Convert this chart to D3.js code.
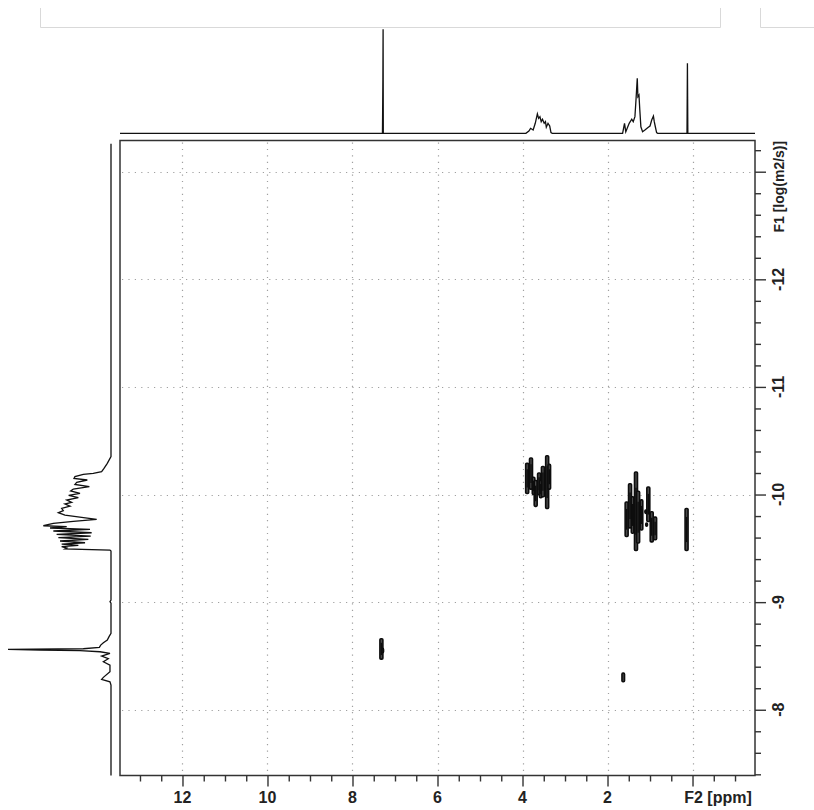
<!DOCTYPE html>
<html><head><meta charset="utf-8">
<script src="https://cdn.jsdelivr.net/npm/d3@7"></script>
<style>
html,body{margin:0;padding:0;background:#fff;}
svg{display:block;font-family:"Liberation Sans",Arial,sans-serif;}
</style></head><body>
<svg id="chart" width="814" height="810"></svg>
<script>
// 1H projection along F2: [chemical shift (ppm), relative intensity]
const f2Projection = [
  [13.47, 0], [7.295, 0], [7.29, 24], [7.285, 52], [7.28, 100], [7.275, 0],
  [3.92, 0], [3.85, 2.2], [3.81, 4.8], [3.75, 3.2], [3.70, 9.6], [3.65, 18.6],
  [3.62, 14.4], [3.59, 16], [3.56, 11.2], [3.53, 13.5], [3.49, 9.6], [3.46, 11.2],
  [3.44, 5.8], [3.40, 9.6], [3.36, 7.0], [3.33, 0.6], [3.30, 0],
  [1.645, 0], [1.60, 9.6], [1.57, 1.5], [1.49, 9.6], [1.43, 13.5], [1.395, 11.2],
  [1.355, 16], [1.33, 32], [1.30, 52.9], [1.285, 35.2], [1.26, 36.8], [1.24, 22.4],
  [1.215, 6.3], [1.175, 1.5], [1.12, 3.2], [1.04, 5.8], [1.00, 7], [0.96, 12.8],
  [0.92, 16.6], [0.90, 11.2], [0.875, 6.3], [0.845, 0.6], [0.82, 0],
  [0.13, 0], [0.12, 67.3], [0.11, 0], [-1.47, 0]
];

// Diffusion projection along F1: [log D (m2/s), relative intensity]
const f1Projection = [
  [-13.26, 0], [-10.352, 0], [-10.290, 3.6], [-10.243, 6.8], [-10.212, 9.1],
  [-10.197, 17.2], [-10.187, 26.9], [-10.166, 35.0], [-10.150, 35.9], [-10.135, 23.0],
  [-10.113, 33.3], [-10.094, 35.0], [-10.073, 21.0], [-10.051, 36.6], [-10.033, 39.2],
  [-10.011, 30.1], [-9.992, 41.1], [-9.971, 31.7], [-9.949, 43.0], [-9.927, 38.2],
  [-9.912, 44.7], [-9.893, 39.8], [-9.871, 47.9], [-9.850, 46.3], [-9.831, 51.1],
  [-9.809, 44.7], [-9.788, 28.5], [-9.769, 13.9], [-9.751, 36.6], [-9.732, 56.0],
  [-9.710, 65.7], [-9.701, 43.0], [-9.689, 59.2], [-9.676, 20.4], [-9.661, 56.0],
  [-9.645, 18.8], [-9.630, 52.8], [-9.614, 19.7], [-9.599, 51.1], [-9.583, 22.0],
  [-9.568, 49.5], [-9.552, 25.2], [-9.540, 47.9], [-9.528, 31.7], [-9.515, 47.9],
  [-9.503, 43.0], [-9.494, 44.7], [-9.484, 1.0], [-9.475, 0],
  [-9.02, 0], [-9.004, 1.0], [-8.99, 0],
  [-8.710, 0], [-8.679, 1.9], [-8.648, 3.6], [-8.623, 7.4], [-8.601, 10.0],
  [-8.580, 11.3], [-8.567, 26.9], [-8.561, 100], [-8.555, 68.9], [-8.549, 30.1],
  [-8.539, 10.7], [-8.524, 1.0], [-8.499, 9.1], [-8.474, 2.6], [-8.446, 7.4],
  [-8.415, 1.0], [-8.353, 1.0], [-8.301, 7.4], [-8.282, 9.1], [-8.260, 1.0],
  [-8.230, 0], [-7.389, 0]
];

// Cross peaks: [ppm, log D centre, ppm half-width, log D half-height]
const peaks = [
  [3.89, -10.15, 0.035, 0.14],
  [3.80, -10.195, 0.035, 0.145],
  [3.74, -10.08, 0.03, 0.08],
  [3.69, -10.01, 0.035, 0.12],
  [3.61, -10.10, 0.035, 0.10],
  [3.57, -10.05, 0.03, 0.08],
  [3.52, -10.12, 0.035, 0.14],
  [3.42, -10.115, 0.035, 0.245],
  [3.37, -10.165, 0.03, 0.115],
  [1.55, -9.77, 0.035, 0.16],
  [1.47, -9.895, 0.035, 0.205],
  [1.41, -9.81, 0.03, 0.17],
  [1.33, -9.845, 0.035, 0.365],
  [1.28, -9.79, 0.035, 0.24],
  [1.20, -9.81, 0.03, 0.14],
  [1.04, -9.91, 0.035, 0.16],
  [0.96, -9.70, 0.035, 0.14],
  [0.88, -9.685, 0.035, 0.105],
  [1.10, -9.84, 0.02, 0.015],
  [1.08, -9.72, 0.02, 0.015],
  [0.14, -9.675, 0.035, 0.195],
  [7.32, -8.565, 0.035, 0.095],
  [7.29, -8.55, 0.02, 0.02],
  [1.63, -8.30, 0.03, 0.04]
];

const f2Major = [12, 10, 8, 6, 4, 2, 0];
const f2Labels = ["12", "10", "8", "6", "4", "2"];
const f1Major = [-13, -12, -11, -10, -9, -8];
const f1Labels = ["-12", "-11", "-10", "-9", "-8"];
const f2Title = "F2 [ppm]";
const f1Title = "F1 [log(m2/s)]";

const svg = d3.select("#chart");
const box = {left: 120, right: 755, top: 140.5, bottom: 775.5};

const x = d3.scaleLinear().domain([13.47, -1.47]).range([box.left, box.right]);
const y = d3.scaleLinear().domain([-13.29, -7.389]).range([box.top, box.bottom]);
const topI = d3.scaleLinear().domain([0, 100]).range([133.3, 29.3]);
const leftI = d3.scaleLinear().domain([0, 100]).range([111, 8]);

// window frame lines along the top edge
svg.append("path").attr("d", "M40.5,8V27.5H720.5V8").attr("fill", "none").attr("stroke", "#d9d9d9");
svg.append("path").attr("d", "M760.5,8V27.5H814").attr("fill", "none").attr("stroke", "#d9d9d9");

// grid
const grid = svg.append("g").attr("stroke", "#a0a0a0").attr("stroke-width", 1.2)
  .attr("stroke-dasharray", "1.2,5.2");
grid.selectAll("line.v").data(f2Major).join("line").attr("class", "v")
  .attr("x1", d => Math.round(x(d)) + 0.5).attr("x2", d => Math.round(x(d)) + 0.5)
  .attr("y1", box.top + 2).attr("y2", box.bottom - 2);
grid.selectAll("line.h").data(f1Major).join("line").attr("class", "h")
  .attr("y1", d => Math.round(y(d)) + 0.5).attr("y2", d => Math.round(y(d)) + 0.5)
  .attr("x1", box.left + 2).attr("x2", box.right - 2);

// cross peaks: outer contour with a darker inner level
const pk = svg.append("g");
pk.selectAll("rect.o").data(peaks).join("rect").attr("class", "o")
  .attr("x", d => x(d[0] + d[2])).attr("width", d => x(d[0] - d[2]) - x(d[0] + d[2]))
  .attr("y", d => y(d[1] - d[3])).attr("height", d => y(d[1] + d[3]) - y(d[1] - d[3]))
  .attr("rx", 1).attr("fill", "#4a4a4a").attr("stroke", "#0d0d0d").attr("stroke-width", 1.6);
pk.selectAll("line.i").data(peaks.filter(d => d[3] > 0.05)).join("line").attr("class", "i")
  .attr("x1", d => x(d[0])).attr("x2", d => x(d[0]))
  .attr("y1", d => y(d[1] - d[3] * 0.6)).attr("y2", d => y(d[1] + d[3] * 0.6))
  .attr("stroke", "#0d0d0d").attr("stroke-width", 1.4);

// frame
svg.append("rect").attr("x", box.left).attr("y", box.top)
  .attr("width", box.right - box.left).attr("height", box.bottom - box.top)
  .attr("fill", "none").attr("stroke", "#333").attr("stroke-width", 1.5);

// F2 axis (bottom)
const xAxis = d3.axisBottom(x).tickValues(d3.range(13, -1.01, -0.5))
  .tickSize(6).tickFormat("");
const gx = svg.append("g").attr("transform", `translate(0,${box.bottom})`).call(xAxis);
gx.select(".domain").remove();
gx.selectAll(".tick line").attr("stroke", "#333").attr("stroke-width", 1.4)
  .attr("y2", d => (Math.abs(d % 2) < 1e-9 ? 11 : 6));
svg.append("g").selectAll("text").data(f2Labels).join("text")
  .attr("x", d => x(+d)).attr("y", 803).attr("text-anchor", "middle")
  .attr("font-size", 16).attr("font-weight", "bold").attr("fill", "#222").text(d => d);
svg.append("text").attr("x", 718).attr("y", 803).attr("text-anchor", "middle")
  .attr("font-size", 16).attr("font-weight", "bold").attr("fill", "#222").text(f2Title);

// F1 axis (right)
const yAxis = d3.axisRight(y).tickValues(d3.range(-13.2, -7.35, 0.2)).tickSize(6).tickFormat("");
const gy = svg.append("g").attr("transform", `translate(${box.right},0)`).call(yAxis);
gy.select(".domain").remove();
gy.selectAll(".tick line").attr("stroke", "#333").attr("stroke-width", 1.4)
  .attr("x2", d => (Math.abs(d - Math.round(d)) < 1e-6 ? 11 : 6));
svg.append("g").selectAll("text").data(f1Labels).join("text")
  .attr("transform", d => `translate(784,${y(+d)}) rotate(-90)`)
  .attr("text-anchor", "middle").attr("font-size", 16).attr("font-weight", "bold")
  .attr("fill", "#222").text(d => d);
svg.append("text").attr("transform", `translate(784,${y(-13) + 15}) rotate(-90)`)
  .attr("text-anchor", "middle").attr("font-size", 14).attr("font-weight", "bold")
  .attr("fill", "#222").text(f1Title);

// projections
const topLine = d3.line().x(d => x(d[0])).y(d => topI(d[1]));
svg.append("path").datum(f2Projection).attr("d", topLine)
  .attr("fill", "none").attr("stroke", "#111").attr("stroke-width", 1.3);
const leftLine = d3.line().x(d => leftI(d[1])).y(d => y(d[0]));
svg.append("path").datum(f1Projection).attr("d", leftLine)
  .attr("fill", "none").attr("stroke", "#111").attr("stroke-width", 1.3);
</script>
</body></html>
